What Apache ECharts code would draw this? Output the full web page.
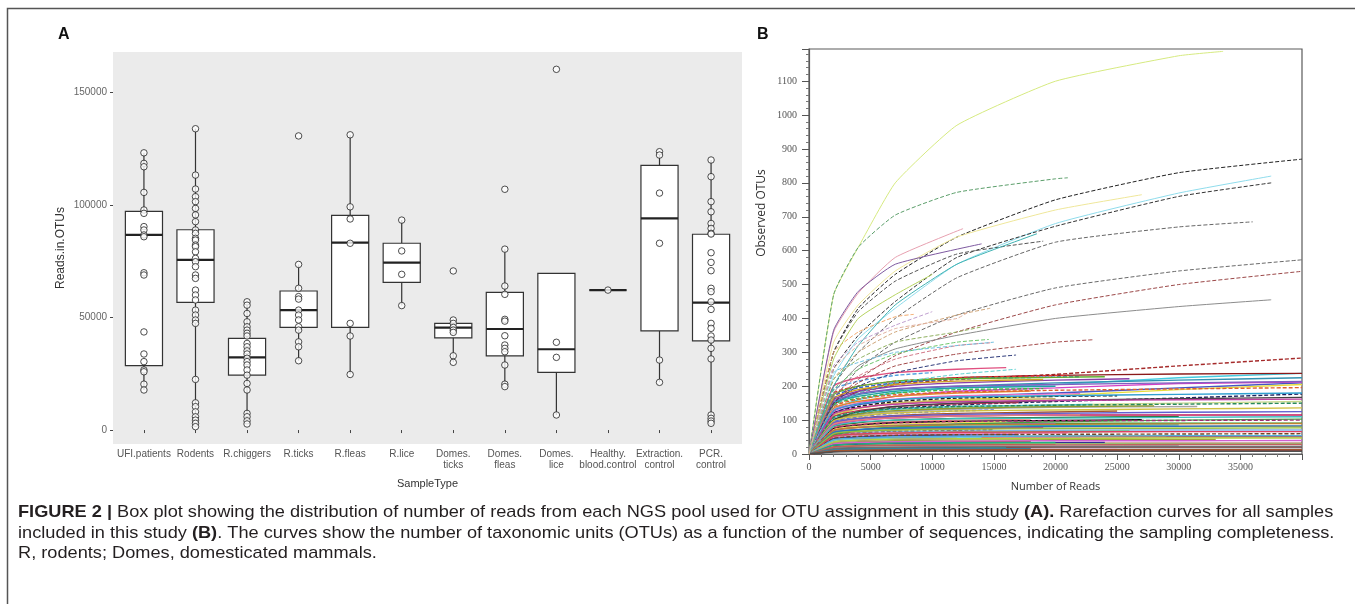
<!DOCTYPE html>
<html><head><meta charset="utf-8">
<script src="https://cdn.jsdelivr.net/npm/echarts@6/dist/echarts.min.js"></script>
<style>html,body{margin:0;padding:0;background:#fff}#c{width:1355px;height:604px}</style>
</head><body><div id="c"></div>
<script>
// ---------- Panel A data ----------
const sampleTypes = ['UFI.patients','Rodents','R.chiggers','R.ticks','R.fleas','R.lice','Domes.\nticks','Domes.\nfleas','Domes.\nlice','Healthy.\nblood.control','Extraction.\ncontrol','PCR.\ncontrol'];
// [q1, median, q3, lower whisker, upper whisker]
const boxStats = [
  [28600, 86700, 97200, 17800, 123200],
  [56700, 75600, 89000, 1500, 133900],
  [24400, 32300, 40700, 2700, 57000],
  [45600, 53300, 61800, 30800, 73600],
  [45600, 83300, 95400, 24700, 131200],
  [65600, 74400, 83000, 55300, 93300],
  [41000, 45500, 47400, 30100, 48900],
  [33000, 44900, 61200, 19300, 80400],
  [25600, 35900, 69600, 6700, 69600],
  [62200, 62200, 62200, 62200, 62200],
  [44100, 94100, 117600, 21200, 123700],
  [39600, 56600, 87000, 3000, 120000]
];
const readsUFI = [123200,118500,117000,105600,97800,96300,90400,88900,86700,85900,69900,68900,43600,33800,30400,26700,25900,20400,17800];
const readsRodents = [133900,113300,107100,103700,101500,98500,95600,92600,88900,87400,85200,84400,82200,81500,79200,76300,74800,72600,68900,67400,62200,60000,57800,53300,51100,48900,47400,22500,12100,10400,8100,5900,4400,3000,1500];
const readsRChiggers = [57000,55500,51800,48100,45900,44400,43000,41800,38500,37000,35200,33800,31900,30400,28900,26700,24400,20700,17800,7400,5900,4100,2700];
const readsRTicks = [130700,73600,63000,59300,58200,53300,51100,48900,45900,44400,39200,37000,30800];
const readsRFleas = [131200,99200,93800,83000,47400,41800,24700];
const readsRLice = [93300,79600,69200,55300];
const readsDomesTicks = [70700,48900,47400,45600,44400,43400,33000,30100];
const readsDomesFleas = [107000,80400,64000,60300,49200,48400,41900,37800,36300,34800,28900,20400,19300];
const readsDomesLice = [160300,39000,32300,6700];
const readsHealthy = [62200];
const readsExtraction = [123700,122200,105300,83000,31100,21200];
const readsPCR = [120000,112600,101500,97000,91800,89600,87400,87100,78800,74500,70800,63000,61500,57000,53600,47400,45200,41800,40000,36300,31600,6700,5200,4000,3000];
const readsPerSample = [readsUFI, readsRodents, readsRChiggers, readsRTicks, readsRFleas, readsRLice, readsDomesTicks, readsDomesFleas, readsDomesLice, readsHealthy, readsExtraction, readsPCR];
const yTicksA = [0, 50000, 100000, 150000];

// ---------- Panel B data ----------
// Observed OTUs read at these numbers of reads (every curve starts at 0,0)
const readsGrid = [0, 2000, 4000, 7000, 12000, 20000, 30000, 40000];
const curveOTUs = [
  [470,610,800,970,1100,1175,1188],
  [470,610,705,772,812,815],
  [300,430,530,640,750,830,870],
  [330,440,540,640,720,765],
  [360,475,580,665],
  [230,340,430,560,680,770,820],
  [250,350,450,580,672,760,800],
  [300,420,510,590,628],
  [200,300,400,520,625,670,685],
  [160,250,330,410,490,540,573],
  [150,220,290,360,440,500,539],
  [180,260,310,350,400,435,455],
  [150,210,260,295,330,337],
  [300,360,405,412],
  [220,300,360,410,430],
  [190,250,295,330,338],
  [150,200,240,275,292],
  [140,180,210,235,250],
  [170,230,280,320,328],
  [365,480,560,620],
  [200,320,440,560,650],
  [280,400,470,530],
  [140,180,205,220,235,260,283],
  [130,160,180,195,205,225,238],
  [145,185,210,225,232,236,238],
  [120,145,160,170,180,195,210],
  [125,150,170,185,195,208,212],
  [110,135,150,160,172,190,205],
  [100,120,135,145,155,165,177],
  [90,110,125,135,145,150,155],
  [95,115,125,132,138,140],
  [85,100,110,113,115,115,115],
  [70,80,85,88,90,91,91],
  [65,72,76,78,80,81,81],
  [55,62,66,68,70,71,71],
  [40,45,48,50,51,51,51],
  [25,28,30,31,32,32,32],
  [12,15,16,17,18,18,18],
  [15,18,20,20,21,21,21],
  [180,200,215,225,232],
  [170,195,210,222,228],
  [160,185,200,210,218,222],
  [150,170,185,195,200],
  [145,165,180,190,193],
  [135,155,170,180,186],
  [130,150,162,172,178],
  [120,140,155,165,170,172],
  [115,135,150,158,163],
  [110,128,140,148,152],
  [105,122,132,140,146],
  [100,118,128,135,140,142],
  [95,110,120,127,130],
  [90,105,114,120,124,127],
  [85,98,106,112,116],
  [80,92,100,105,108,110],
  [78,88,95,100,103],
  [75,85,92,96,99,101],
  [72,82,88,92,95],
  [68,78,84,88,90],
  [62,72,78,82,84,86],
  [58,66,72,75,77],
  [55,62,67,70,72],
  [50,57,61,64,66,67],
  [48,54,58,60,62],
  [45,50,54,56,57],
  [40,46,49,51,53,54],
  [38,43,46,48,49],
  [35,40,43,45,46],
  [32,36,39,41,42,43],
  [28,32,35,36,37],
  [25,29,31,33,34],
  [22,25,27,29,30,30,30],
  [20,23,25,26,27],
  [18,21,23,24,25,25],
  [14,16,17,18,19],
  [10,12,13,14,14,14],
  [8,10,11,11,12,12,12],
  [55,70,80,88,95,100,103],
  [100,125,140,150,158,163,167],
  [150,175,190,200,210,218,225],
  [200,225,240,250,255],
  [190,215,232,240],
  [175,200,215,222,226,228],
  [165,190,205,215,220],
  [155,178,192,200,205,210,214],
  [140,162,175,183,188,192,196],
  [128,148,160,168,172,176,180],
  [118,136,147,154,158,160,162],
  [108,124,134,140,144,147,150],
  [98,112,121,127,130,133,136],
  [92,104,112,117,120,123,125],
  [88,100,107,112,116],
  [82,94,100,104,106,108,110],
  [76,86,92,96,98,99,100],
  [70,78,83,86,88,89,90],
  [64,72,76,79,81,82,83],
  [60,67,71,73,75,76,77],
  [52,59,62,64,65,66,66],
  [46,52,55,57,58,59,60],
  [42,47,50,52,53,54,54],
  [36,41,44,45,46,47,47],
  [30,34,36,38,39,39,40],
  [26,30,32,33,34],
  [20,24,26,27,27,28,28],
  [16,19,20,21,21,22,22],
  [12,14,15,16,16],
  [9,11,12,12,13,13,13],
  [6,7,8,8,8,8,8],
  [240,270,300,320,330],
  [260,330,380,420],
  [220,280,330,360,375],
  [250,320,370,400,420]
];
// reads at which each curve stops (null = at the last grid value used)
const curveEndReads = [33600,21000,null,27000,12500,37500,37500,19000,36000,null,null,37500,23000,8500,14700,14600,16800,16800,14700,14000,18500,10000,
  null,null,null,null,null,null,null,null,31500,null,null,null,null,null,null,null,null,
  21000,22000,26000,20000,19000,18000,22000,25000,20000,17000,23000,28000,15000,25000,21000,30000,18000,27000,16000,20000,30000,19000,15000,26000,21000,17000,29000,14000,22000,33000,18000,24000,null,20000,30000,16000,25000,null,null,null,null,
  16000,10000,24000,19000,null,null,null,null,null,null,null,22000,null,null,null,null,null,null,null,null,null,null,20000,null,null,18000,null,null,
  15000,10000,14000,13000];

// ---------- styles ----------
const curveColors = ['#d6ea80','#5b9e6a','#222222','#efe79a','#e7a0b0','#8fdcec','#333333','#555555','#666666','#6a6a6a','#9b4848','#8c8c8c','#a34a4a','#f2a86a','#cfa57a','#6cc66c','#2e3a7a','#5cd0d0','#d27888','#7e5aa0','#3fb2b2','#b5d35e',
  '#a52a2a','#45cbe0','#8b1a1a','#4455c4','#d23fc4','#e6dc3a','#1f1f5e','#c9d98e','#a5a5a5','#c2185b','#2e9e2e','#d6c41e','#7fb0e6','#d83030','#a0623e','#8e8e8e','#7a0a0a',
  '#e03434','#2f62d2','#8a3fa6','#1ea3a3','#44b544','#e5862e','#e872c6','#1c1c1c','#c9b25c','#c4304e','#4fc8da','#8c9c2c','#5272e4','#a4522e','#c42ec4','#1e621e','#f29282','#000000','#f2e25e','#9262c2','#2eb2a2','#e24242','#7e7e7e','#52c252','#f282b2','#4242a2','#e29242','#72d2e2','#b242b2','#a2a242','#926242','#323292','#92d272','#c22222','#b2b2b2','#229292','#e2a2c2','#820000','#42a242','#424242','#3292b2',
  '#e05080','#50a0e0','#60b030','#d0a020','#8060c0','#e06030','#30a0d0','#c040a0','#2a8a5a','#d0c040','#6060d0','#e08080','#40c0c0','#a03070','#c08030','#3070c0','#90c040','#e04060','#6a4a2a','#50b0e0','#b0d040','#d060d0','#20b080','#c06060','#707070','#4080a0','#a0522d','#505050',
  '#70c0e0','#c0a0d0','#90b060','#e0b0a0'];
const curveDashed = [0,1,1,0,0,0,1,1,1,1,1,0,1,1,1,1,1,1,1,0,0,0,
  1,0,0,0,0,0,1,0,0,0,0,0,0,0,0,0,0,
  1,1,0,0,1,0,0,1,0,0,0,0,1,0,0,0,0,0,0,0,0,0,1,0,0,0,0,0,0,0,0,0,0,0,0,0,0,0,0,0,0,
  0,1,0,0,0,1,0,0,1,0,0,0,0,1,0,0,0,0,1,0,0,0,0,0,0,0,0,0,
  1,1,1,1];

const curveSeries = curveOTUs.map((ys, i) => {
  const pts = [[readsGrid[0], 0]];
  ys.forEach((y, k) => {
    const last = k === ys.length - 1;
    pts.push([(last && curveEndReads[i]) ? curveEndReads[i] : readsGrid[k + 1], y]);
  });
  const upper = i < 22 || i > 107;
  return {
    type: 'line', xAxisIndex: 1, yAxisIndex: 1, data: pts, showSymbol: false, silent: true,
    smooth: 0.15,
    lineStyle: { color: curveColors[i], width: upper ? 1 : 1.4, type: curveDashed[i] ? [4, 2] : 'solid' },
    z: upper ? 3 : 2
  };
});

const boxData = boxStats.map((s, i) => [i + 1].concat(s));
const pointData = [];
readsPerSample.forEach((arr, i) => arr.forEach(v => pointData.push([i + 1, v])));

const chart = echarts.init(document.getElementById('c'), null, { renderer: 'canvas' });
const capFont = '"Liberation Sans", Arial, sans-serif';
const capSize = 17;
const capScale = 1.07;
const rich = { b: { fontWeight: 'bold', fontFamily: capFont, fontSize: capSize, color: '#231f20' } };
function capLine(y, text) {
  return { type: 'text', x: 18, y: y, scaleX: capScale, silent: true,
    style: { text: text, rich: rich, fontFamily: capFont, fontSize: capSize, fill: '#231f20', verticalAlign: 'middle' } };
}
const plain = v => String(v);

chart.setOption({
  animation: false,
  grid: [
    { left: 113, top: 52, width: 629, height: 392, show: true, backgroundColor: '#ebebeb', borderWidth: 0 },
    { left: 809, top: 49, width: 493, height: 405, show: true, backgroundColor: '#fff', borderColor: '#5a5a5a', borderWidth: 1.2 }
  ],
  xAxis: [
    { type: 'value', gridIndex: 0, min: 0.4, max: 12.6,
      name: 'SampleType', nameLocation: 'middle', nameGap: 34,
      nameTextStyle: { fontSize: 11, color: '#333', fontFamily: 'Liberation Sans' },
      axisLine: { show: false }, splitLine: { show: false },
      axisTick: { show: true, length: 3, lineStyle: { color: '#444' }, customValues: sampleTypes.map((_, i) => i + 1) },
      axisLabel: { customValues: sampleTypes.map((_, i) => i + 1), formatter: v => sampleTypes[Math.round(v) - 1], fontSize: 10, lineHeight: 11, color: '#555', margin: 5, fontFamily: 'Liberation Sans', interval: 0 } },
    { type: 'value', gridIndex: 1, min: 0, max: 40000, interval: 5000,
      name: 'Number of Reads', nameLocation: 'middle', nameGap: 27,
      nameTextStyle: { fontSize: 11, color: '#333', fontFamily: 'Open Sans' },
      axisLine: { lineStyle: { color: '#5a5a5a', width: 1.2 } }, splitLine: { show: false },
      axisTick: { length: 6, lineStyle: { color: '#555' } },
      minorTick: { show: true, splitNumber: 5, length: 3, lineStyle: { color: '#777' } },
      axisLabel: { showMaxLabel: false, formatter: plain, fontSize: 10, color: '#555', margin: 8, fontFamily: 'Liberation Serif' } }
  ],
  yAxis: [
    { type: 'value', gridIndex: 0, min: -6200, max: 168000,
      name: 'Reads.in.OTUs', nameLocation: 'middle', nameGap: 46,
      nameTextStyle: { fontSize: 12, color: '#333', fontFamily: 'Liberation Sans' },
      axisLine: { show: false }, splitLine: { show: false },
      axisTick: { show: true, length: 3, lineStyle: { color: '#444' }, customValues: yTicksA },
      axisLabel: { customValues: yTicksA, formatter: plain, fontSize: 10, color: '#666', margin: 6, fontFamily: 'Liberation Sans' } },
    { type: 'value', gridIndex: 1, min: 0, max: 1195, interval: 100,
      axisLine: { show: true, lineStyle: { color: '#5a5a5a', width: 1.2 } }, splitLine: { show: false },
      axisTick: { show: true, length: 7, lineStyle: { color: '#555' } },
      minorTick: { show: true, splitNumber: 5, length: 3, lineStyle: { color: '#777' } },
      axisLabel: { showMaxLabel: false, formatter: plain, fontSize: 10, color: '#555', margin: 12, fontFamily: 'Liberation Serif' } }
  ],
  series: [
    { type: 'custom', xAxisIndex: 0, yAxisIndex: 0, data: boxData, silent: true, z: 2,
      renderItem: function (params, api) {
        const x = api.value(0);
        const hw = api.size([0.72, 0])[0] / 2;
        const q1 = api.coord([x, api.value(1)]), md = api.coord([x, api.value(2)]), q3 = api.coord([x, api.value(3)]);
        const lo = api.coord([x, api.value(4)]), hi = api.coord([x, api.value(5)]);
        const ln = { stroke: '#333', lineWidth: 1.2 };
        return { type: 'group', children: [
          { type: 'line', shape: { x1: hi[0], y1: hi[1], x2: q3[0], y2: q3[1] }, style: ln },
          { type: 'line', shape: { x1: lo[0], y1: lo[1], x2: q1[0], y2: q1[1] }, style: ln },
          { type: 'rect', shape: { x: q3[0] - hw, y: q3[1], width: 2 * hw, height: q1[1] - q3[1] }, style: { fill: '#fff', stroke: '#333', lineWidth: 1.2 } },
          { type: 'line', shape: { x1: md[0] - hw, y1: md[1], x2: md[0] + hw, y2: md[1] }, style: { stroke: '#222', lineWidth: 2.2 } }
        ] };
      } },
    { type: 'scatter', xAxisIndex: 0, yAxisIndex: 0, data: pointData, symbol: 'circle', symbolSize: 6.5, silent: true, z: 3,
      itemStyle: { color: '#fff', borderColor: '#222', borderWidth: 1 } }
  ].concat(curveSeries),
  graphic: [
    { type: 'rect', shape: { x: 7.5, y: 8.5, width: 1360, height: 620 }, style: { fill: 'none', stroke: '#555', lineWidth: 1.5 }, silent: true },
    { type: 'text', x: 58, y: 35, style: { text: 'A', font: 'bold 16px "Liberation Sans", Arial', fill: '#111', verticalAlign: 'middle' } },
    { type: 'text', x: 757, y: 35, style: { text: 'B', font: 'bold 16px "Liberation Sans", Arial', fill: '#111', verticalAlign: 'middle' } },
    { type: 'text', x: 762, y: 213, rotation: Math.PI / 2, style: { text: 'Observed OTUs', font: '12px "Open Sans", sans-serif', fill: '#333', align: 'center', verticalAlign: 'middle' } },
    capLine(512, '{b|FIGURE 2 |} Box plot showing the distribution of number of reads from each NGS pool used for OTU assignment in this study {b|(A).} Rarefaction curves for all samples'),
    capLine(533, 'included in this study {b|(B)}. The curves show the number of taxonomic units (OTUs) as a function of the number of sequences, indicating the sampling completeness.'),
    capLine(553, 'R, rodents; Domes, domesticated mammals.')
  ]
});
</script></body></html>
